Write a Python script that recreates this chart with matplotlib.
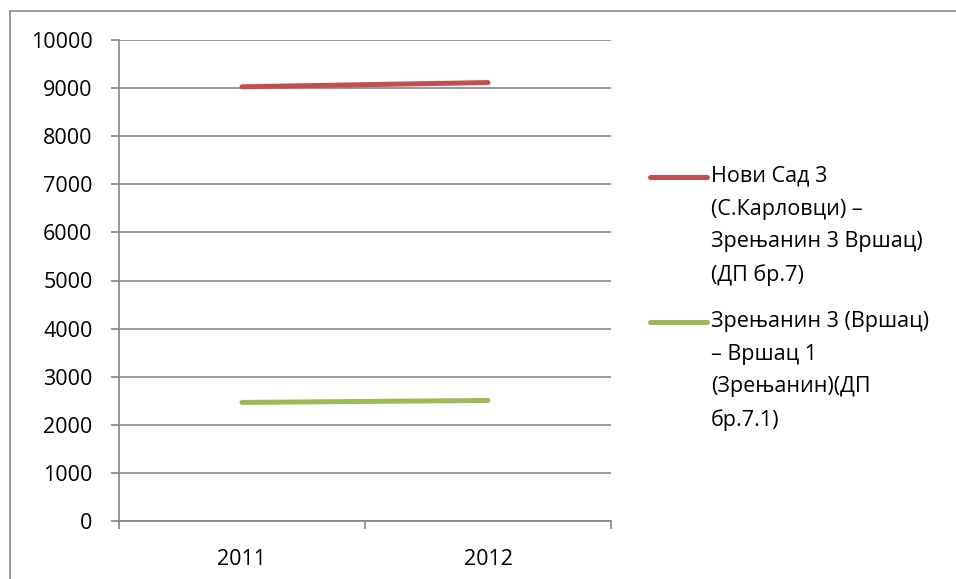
import matplotlib.pyplot as plt
from matplotlib.lines import Line2D
from matplotlib.patches import Rectangle

years = ["2011", "2012"]
novi_sad = [9027, 9115]
zrenjanin = [2465, 2506]
labels = [
    "Нови Сад 3\n(С.Карловци) –\nЗрењанин 3 Вршац)\n(ДП бр.7)",
    "Зрењанин 3 (Вршац)\n– Вршац 1\n(Зрењанин)(ДП\nбр.7.1)",
]
colors = ["#C0504D", "#9BBB59"]
yticks = list(range(0, 10001, 1000))

plt.rcParams["font.family"] = ["Open Sans", "DejaVu Sans"]
grey = "#868686"
fs = 15.5

fig = plt.figure(figsize=(9.56, 5.79), dpi=100)
W, H = 956, 579

# outer chart frame
fig.add_artist(Rectangle((10 / W, -0.05), 1.0, (H - 11) / H + 0.05,
                         transform=fig.transFigure, fill=False,
                         edgecolor=grey, linewidth=1.2))

ax = fig.add_axes([119 / W, 1 - 521 / H, (611 - 119) / W, (521 - 40) / H])
x = range(len(years))
for vals, c in zip([novi_sad, zrenjanin], colors):
    ax.plot(x, vals, color=c, linewidth=3.6, solid_capstyle="round")

ax.set_xlim(-0.5, 1.5)
ax.set_ylim(0, 10000)
ax.set_yticks(yticks)
ax.set_xticks([-0.5, 0.5, 1.5], minor=False)
ax.set_xticklabels([])
ax.set_xticks(list(x), minor=True)
ax.set_xticklabels(years, minor=True)
ax.tick_params(axis="x", which="minor", length=0, pad=20, labelsize=fs)
ax.tick_params(axis="x", which="major", length=6, color=grey, width=1.2)
ax.tick_params(axis="y", length=6, color=grey, width=1.2, labelsize=fs, pad=13)
ax.yaxis.grid(True, color=grey, linewidth=1.2)
ax.set_axisbelow(True)
for s in ["top", "right"]:
    ax.spines[s].set_visible(False)
for s in ["left", "bottom"]:
    ax.spines[s].set_color(grey)
    ax.spines[s].set_linewidth(1.2)

# legend drawn by hand so the line sits on the first text row
tops = [177, 322]
for lab, c, yt in zip(labels, colors, tops):
    yf = 1 - yt / H
    fig.add_artist(Line2D([650 / W, 707 / W], [yf, yf], color=c,
                          linewidth=3.6, solid_capstyle="round",
                          transform=fig.transFigure))
    fig.text(711 / W, yf + 11 / H, lab, fontsize=fs, va="top", ha="left",
             linespacing=1.72)

fig.savefig("out.png", dpi=100)
